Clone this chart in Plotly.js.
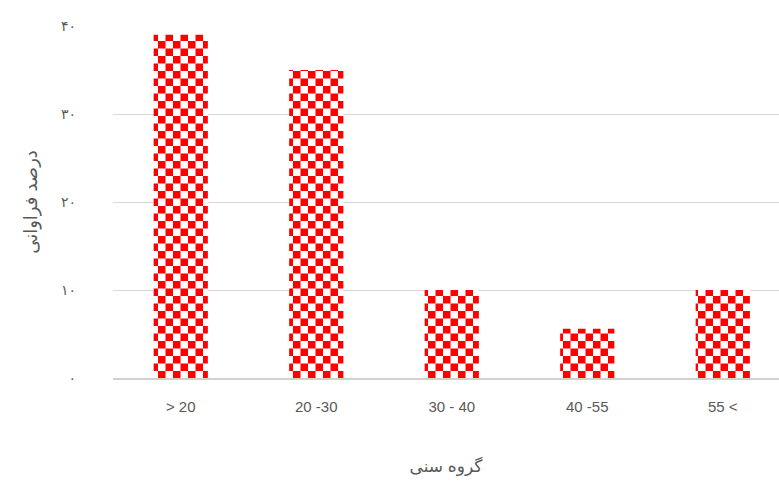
<!DOCTYPE html>
<html>
<head>
<meta charset="utf-8">
<script src="https://cdn.plot.ly/plotly-3.0.1.min.js"></script>
<style>html,body{margin:0;padding:0;background:#fff;}#chart{width:779px;height:482px;}</style>
</head>
<body>
<div id="chart"></div>
<script>
const categories = ["> 20", "20 -30", "30 - 40", "40 -55", "55 <"];
const values = [39, 35, 10, 5.6, 10];
const yTickVals = [0, 10, 20, 30, 40];
const yTickText = ["۰", "۱۰", "۲۰", "۳۰", "۴۰"];
const xTitle = "گروه سنی";
const yTitle = "درصد فراوانی";

const font = "Liberation Sans, DejaVu Sans, sans-serif";
const trace = {
  type: "bar",
  x: categories,
  y: values,
  width: 0.4,
  marker: {color: "#ff0000", line: {width: 0}},
  hoverinfo: "none"
};
const layout = {
  width: 779, height: 482,
  margin: {l: 113, r: 0, t: 26, b: 104},
  paper_bgcolor: "#fff", plot_bgcolor: "#fff",
  showlegend: false,
  font: {family: font, color: "#595959", size: 14},
  xaxis: {
    type: "category",
    range: [-0.5, 4.415],
    showgrid: false, zeroline: false,
    showline: true, linecolor: "#d0d0d0", linewidth: 1.5,
    ticks: "", ticklabelstandoff: 14,
    tickfont: {size: 15, color: "#595959"},
    title: {text: xTitle, font: {size: 17, color: "#595959"}, standoff: 46}
  },
  yaxis: {
    range: [0, 40],
    tickvals: yTickVals, ticktext: yTickText,
    showgrid: true, gridcolor: "#d9d9d9", gridwidth: 1,
    zeroline: false, showline: false,
    ticks: "", ticklabelstandoff: 36,
    tickfont: {size: 14, color: "#595959"},
    title: {text: yTitle, font: {size: 18, color: "#595959"}, standoff: 18}
  }
};
Plotly.newPlot("chart", [trace], layout, {displayModeBar: false, staticPlot: true}).then(function(gd){
  const svg = gd.querySelector(".main-svg");
  const ns = "http://www.w3.org/2000/svg";
  let defs = svg.querySelector("defs");
  if (!defs) { defs = document.createElementNS(ns, "defs"); svg.insertBefore(defs, svg.firstChild); }
  const s = 7.5;
  const pat = document.createElementNS(ns, "pattern");
  pat.setAttribute("id", "checker");
  pat.setAttribute("patternUnits", "userSpaceOnUse");
  pat.setAttribute("width", 2*s); pat.setAttribute("height", 2*s);
  const bg = document.createElementNS(ns, "rect");
  bg.setAttribute("width", 2*s); bg.setAttribute("height", 2*s); bg.setAttribute("fill", "#ffffff");
  pat.appendChild(bg);
  [[0,0],[s,s]].forEach(function(p){
    const r = document.createElementNS(ns, "rect");
    r.setAttribute("x", p[0]); r.setAttribute("y", p[1]);
    r.setAttribute("width", s); r.setAttribute("height", s);
    r.setAttribute("fill", "#ff0000");
    pat.appendChild(r);
  });
  defs.appendChild(pat);
  gd.querySelectorAll(".trace.bars .point path").forEach(function(p){
    p.style.fill = "url(#checker)";
  });
});
</script>
</body>
</html>
